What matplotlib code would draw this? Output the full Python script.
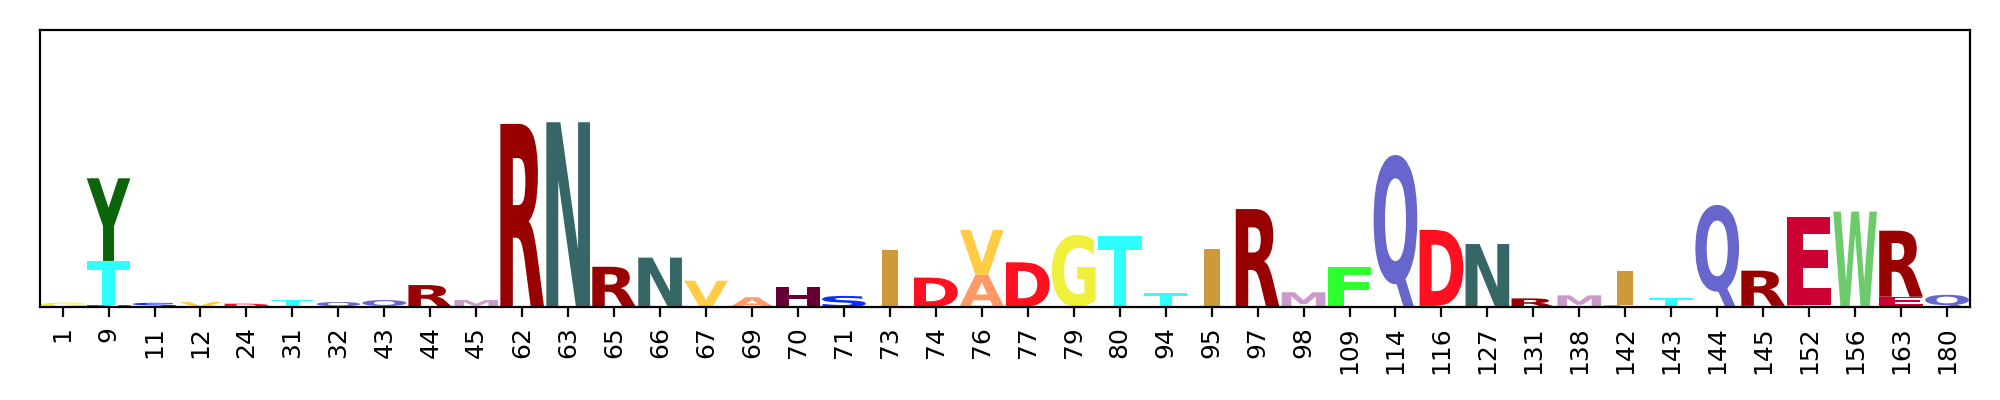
import matplotlib
matplotlib.use("Agg")
import matplotlib.pyplot as plt
from matplotlib.textpath import TextPath
from matplotlib.font_manager import FontProperties
from matplotlib.patches import PathPatch
from matplotlib.transforms import Affine2D

# alignment sites shown on the x axis
positions = [1, 9, 11, 12, 24, 31, 32, 43, 44, 45, 62, 63, 65, 66, 67, 69, 70,
             71, 73, 74, 76, 77, 79, 80, 94, 95, 97, 98, 109, 114, 116, 127,
             131, 138, 142, 143, 144, 145, 152, 156, 163, 180]

# one entry per glyph, listed bottom-to-top inside each stack
glyph_site = [1, 9, 9, 9, 11, 12, 24, 31, 32, 43, 44, 45, 62, 63, 65, 66, 67,
              69, 70, 71, 73, 74, 76, 76, 76, 77, 79, 80, 94, 95, 97, 98, 109,
              114, 116, 116, 127, 131, 138, 142, 142, 143, 144, 145, 145, 152,
              152, 156, 163, 163, 163, 180]
glyph_char = ['G', 'N', 'T', 'Y', 'S', 'V', 'D', 'T', 'Q', 'Q', 'R', 'M', 'R',
              'N', 'R', 'N', 'V', 'A', 'H', 'S', 'I', 'D', 'P', 'A', 'V', 'D',
              'G', 'T', 'T', 'I', 'R', 'M', 'F', 'Q', 'G', 'D', 'N', 'R', 'M',
              'F', 'I', 'T', 'Q', 'L', 'R', 'L', 'E', 'W', 'L', 'E', 'R', 'Q']
glyph_val = [0.016, 0.007, 0.159, 0.298, 0.015, 0.018, 0.012, 0.025, 0.018,
             0.025, 0.079, 0.025, 0.660, 0.666, 0.145, 0.178, 0.095, 0.035,
             0.071, 0.040, 0.206, 0.106, 0.004, 0.112, 0.162, 0.161, 0.260,
             0.256, 0.049, 0.209, 0.353, 0.053, 0.145, 0.548, 0.004, 0.274,
             0.227, 0.031, 0.042, 0.007, 0.123, 0.032, 0.368, 0.004, 0.127,
             0.007, 0.319, 0.344, 0.005, 0.032, 0.238, 0.044]

colors = {
    'A': '#ff9966', 'D': '#ff1020', 'E': '#cc0033', 'F': '#2eff2e',
    'G': '#f0ef3c', 'H': '#660033', 'I': '#cc9a3d', 'L': '#ff9933',
    'M': '#cc99cc', 'N': '#366666', 'P': '#3399ff', 'Q': '#6666cc',
    'R': '#990000', 'S': '#0a2eff', 'T': '#2effff', 'V': '#ffcc44',
    'W': '#6ccc6c', 'Y': '#0b660b',
}

font = FontProperties(family='DejaVu Sans', weight='bold')
e_width = TextPath((0, 0), 'E', size=1, prop=font).get_extents().width


def draw_glyph(ax, c, x, floor, height, width=0.95):
    path = TextPath((0, 0), c, size=1, prop=font)
    bb = path.get_extents()
    hs = width / max(bb.width, e_width)
    vs = height / bb.height
    cw = bb.width * hs
    t = Affine2D().translate(-bb.xmin, -bb.ymin).scale(hs, vs).translate(x - cw / 2, floor)
    ax.add_patch(PathPatch(t.transform_path(path), facecolor=colors[c],
                           edgecolor='none', lw=0))


fig = plt.figure(figsize=(10, 2), dpi=200)
ax = fig.add_axes([0.0198, 0.2325, 0.9652, 0.6935])

floors = {}
for site, c, v in zip(glyph_site, glyph_char, glyph_val):
    i = positions.index(site)
    floor = floors.get(i, 0.0)
    draw_glyph(ax, c, i, floor, v)
    floors[i] = floor + v

ax.set_xlim(-0.5, len(positions) - 0.5)
ax.set_ylim(0, 1)
ax.set_xticks(range(len(positions)))
ax.set_xticklabels([str(p) for p in positions], rotation=90, fontsize=9)
ax.set_yticks([])

fig.savefig("out.png", dpi=200)
